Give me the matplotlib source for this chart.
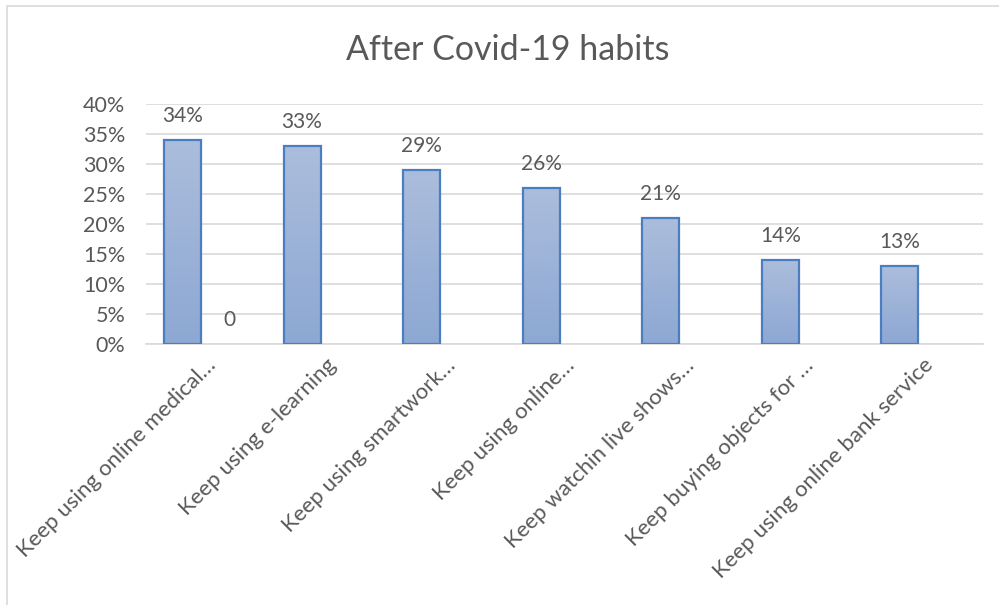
import numpy as np
import matplotlib
matplotlib.use("Agg")
import matplotlib.pyplot as plt
from matplotlib.patches import Rectangle
from matplotlib.colors import LinearSegmentedColormap
from matplotlib.ticker import FuncFormatter

categories = [
    "Keep using online medical…",
    "Keep using e-learning",
    "Keep using smartwork…",
    "Keep using online…",
    "Keep watchin live shows…",
    "Keep buying objects for …",
    "Keep using online bank service",
]
habit_share = [0.34, 0.33, 0.29, 0.26, 0.21, 0.14, 0.13]
second_series = [0, np.nan, np.nan, np.nan, np.nan, np.nan, np.nan]
y_ticks = [0, 0.05, 0.10, 0.15, 0.20, 0.25, 0.30, 0.35, 0.40]
title = "After Covid-19 habits"

plt.rcParams["font.family"] = ["Lato", "DejaVu Sans"]
TEXT = "#595959"
GRID = "#D9D9D9"

fig = plt.figure(figsize=(9.99, 6.05), dpi=100)
W, H = 999, 605
ax = fig.add_axes([146 / W, 1 - 344 / H, (983 - 146) / W, (344 - 104) / H])

# chart frame
fig.patches.append(Rectangle((7 / W, -0.05), 1.1, 1 - 6 / H + 0.05,
                             transform=fig.transFigure, fill=False,
                             edgecolor=GRID, linewidth=1.2))

x = np.arange(len(categories))
width = 0.31
offset = 0.195

bars = ax.bar(x - offset, habit_share, width, facecolor="none",
              edgecolor="#4A7EC0", linewidth=1.6, zorder=3)

cmap = LinearSegmentedColormap.from_list("fill", ["#8DA8D3", "#ABBDDC"])
grad = np.linspace(0, 1, 256).reshape(-1, 1)
for b in bars:
    bx, by = b.get_x(), b.get_y()
    bw, bh = b.get_width(), b.get_height()
    im = ax.imshow(grad, cmap=cmap, origin="lower", aspect="auto",
                   extent=[bx, bx + bw, by, by + bh], zorder=2)
    im.set_clip_path(b)

LABEL_SIZE = 15
for xi, v in zip(x - offset, habit_share):
    ax.annotate(f"{v * 100:.0f}%", (xi, v), xytext=(0, 17.5),
                textcoords="offset points", ha="center", va="center",
                fontsize=LABEL_SIZE, color=TEXT)

for xi, v in zip(x + offset, second_series):
    if not np.isnan(v):
        ax.bar(xi, v, width, color="#ED7D31", zorder=3)
        ax.annotate(f"{v:.0f}", (xi, v), xytext=(0, 17.5),
                    textcoords="offset points", ha="center", va="center",
                    fontsize=LABEL_SIZE, color=TEXT)

ax.set_xlim(-0.5, len(categories) - 0.5)
ax.set_ylim(0, 0.40)
ax.set_yticks(y_ticks)
ax.yaxis.set_major_formatter(FuncFormatter(lambda v, p: f"{v * 100:.0f}%"))
ax.grid(axis="y", color=GRID, linewidth=1.2, zorder=0)
ax.set_axisbelow(True)
for s in ["top", "right", "left"]:
    ax.spines[s].set_visible(False)
ax.spines["bottom"].set_color(GRID)
ax.spines["bottom"].set_linewidth(1.2)
ax.tick_params(axis="both", length=0, colors=TEXT, labelsize=15.5)
ax.tick_params(axis="y", pad=15)

ax.set_xticks(x)
ax.set_xticklabels(categories, rotation=45, ha="right", va="top",
                   rotation_mode="anchor", fontsize=16, color=TEXT)
ax.tick_params(axis="x", pad=8)

fig.text(508 / W, 1 - 50 / H, title, ha="center", va="center",
         fontsize=24.5, color=TEXT)

fig.savefig("out.png", dpi=100)
